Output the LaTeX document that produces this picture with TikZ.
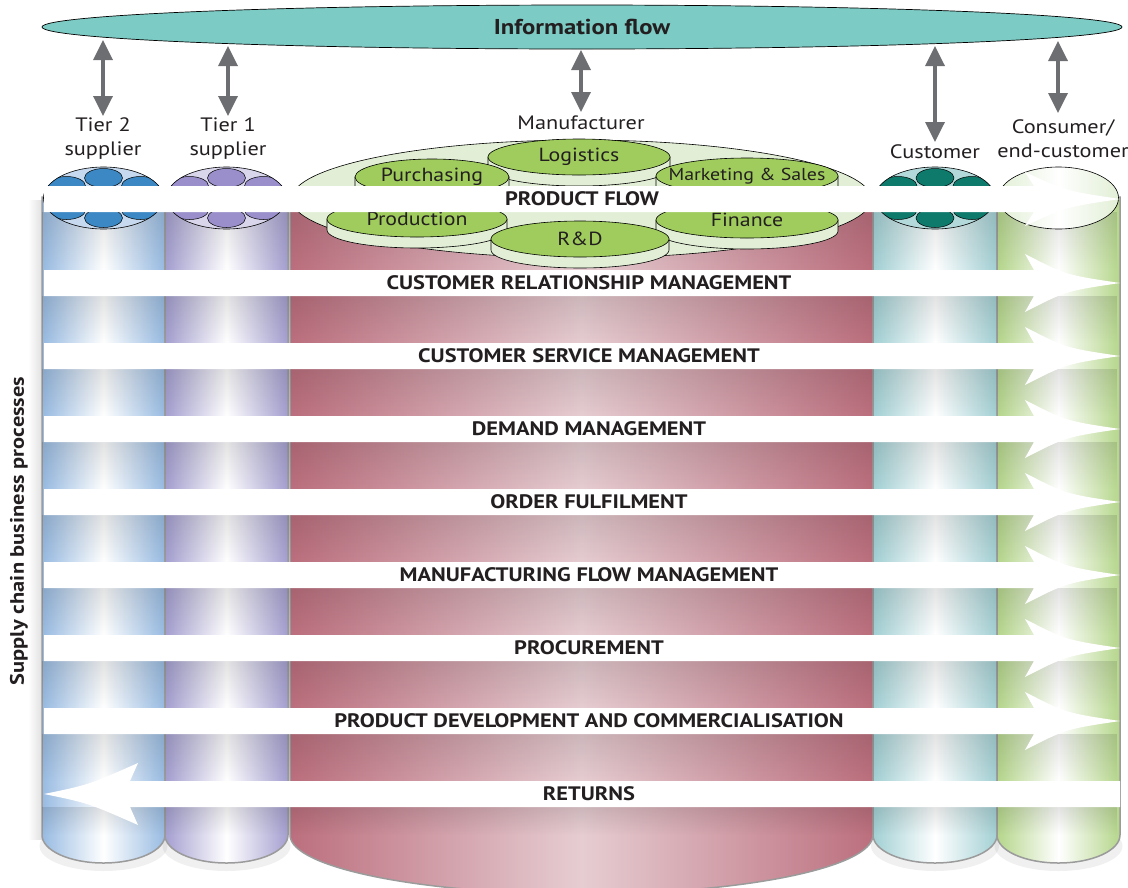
\documentclass[tikz,border=0pt]{standalone}
\usepackage{fontspec}
\setmainfont{PT Sans}[FakeStretch=1.15]
\usetikzlibrary{arrows.meta,fadings}
\tikzfading[name=fadedown, top color=transparent!0, bottom color=transparent!100]
\tikzfading[name=fadeleft, right color=transparent!0, left color=transparent!100]
\definecolor{infofill}{HTML}{7CCBC4}
\definecolor{arrgray}{HTML}{6D6E71}
\definecolor{txt}{HTML}{231F20}
\definecolor{blueC}{HTML}{98BBE2}
\definecolor{blueD}{HTML}{3B88C4}
\definecolor{blueL}{HTML}{C6D9EE}
\definecolor{purC}{HTML}{A49FD0}
\definecolor{purD}{HTML}{9A8FCB}
\definecolor{purL}{HTML}{D9D6EC}
\definecolor{redC}{HTML}{BC6F7E}
\definecolor{redM}{HTML}{E6CDD2}
\definecolor{tealC}{HTML}{A2D0D4}
\definecolor{tealD}{HTML}{0E7A6C}
\definecolor{tealL}{HTML}{B3D9DA}
\definecolor{grnC}{HTML}{B5D68B}
\definecolor{grnD}{HTML}{9FCC5C}
\definecolor{grnL}{HTML}{E2EFD6}
\definecolor{edgeg}{HTML}{9B9B9B}
\tikzset{
  colbody/.style={draw=edgeg, line width=1.5pt},
  topell/.style={draw=black, line width=0.6pt},
  smallell/.style={draw=black, line width=0.5pt},
  dblarrow/.style={draw=arrgray, line width=3.5pt, {Triangle[width=19pt,length=20pt]}-{Triangle[width=19pt,length=20pt]}},
  toplabel/.style={text=txt, font=\fontsize{19.4}{24}\selectfont, align=center},
  proclabel/.style={text=txt, font=\bfseries\fontsize{19.5}{22}\selectfont},
  complabel/.style={text=txt, font=\fontsize{19}{22}\selectfont},
  barfill/.style={fill=white},
  bandshade/.style={fill=black, opacity=0.11, path fading=fadedown}
}
\newcommand{\colbody}[5]{% x1 x2 color midcolor ry
  \shade[colbody, left color=#3, right color=#3, middle color=#4]
    (#1,197) -- (#1,835) arc[start angle=180, end angle=0, x radius={(#2-#1)/2}, y radius=#5] -- (#2,197) -- cycle;
}
\newcommand{\flower}[4]{% cx light dark name
  \begin{scope}
    \path[fill=#2] (#1,198) ellipse[x radius=60, y radius=31];
    \clip (#1,198) ellipse[x radius=60, y radius=31];
    \foreach \dx/\dy in {-37/186, 37/186, -37/210, 37/210, 0/178, 0/218}
      \filldraw[smallell, fill=#3] (#1+\dx,\dy) ellipse[x radius=19, y radius=9.5];
  \end{scope}
  \draw[topell] (#1,198) ellipse[x radius=60, y radius=31];
  \coordinate (#4) at (#1,198);
}
\newcommand{\comp}[6]{% cx cy rx name text fontsize
  \filldraw[draw=black, line width=0.6pt, fill=grnL] (#1-#3,#2) -- (#1-#3,#2+11) arc[start angle=180, end angle=0, x radius=#3, y radius=18] -- (#1+#3,#2) -- cycle;
  \filldraw[draw=black, line width=0.6pt, fill=grnD] (#1,#2) ellipse[x radius=#3, y radius=18];
  \node[complabel, font=\fontsize{#6}{22}\selectfont] (#4) at (#1,#2) {#5};
}
\newcommand{\rarrow}[2]{% center y, half head
  \fill[barfill] (44,#1-13) -- (1034,#1-13) -- (1025,#1-#2) .. controls (1066,#1-8) .. (1120,#1) .. controls (1066,#1+8) .. (1025,#1+#2) -- (1034,#1+13) -- (44,#1+13) -- cycle;
}
\begin{document}
\begin{tikzpicture}[x=1pt,y=-1pt]
\useasboundingbox (0,0) rectangle (1128,887);
% soft shadows
\fill[black, opacity=0.12, path fading=fadeleft] (28,200) rectangle (42,840);
\foreach \cx in {103.5, 226.5, 935, 1058.5}
  \fill[black, opacity=0.06] (\cx,846) ellipse[x radius=64, y radius=25];
% columns
\colbody{42}{165}{blueC}{white}{28}
\colbody{165}{288}{purC}{white}{28}
\colbody{290}{873}{redC}{redM}{59}
\colbody{873}{997}{tealC}{white}{28}
\colbody{997}{1120}{grnC}{white}{28}
% banding between process bars
\foreach \ya/\yb in {212/270, 296/343, 369/416, 442/489, 515/562, 588/635, 661/708, 734/781, 807/835}
  \fill[bandshade] (43,\ya) rectangle (1119,\yb);
% tops
\flower{103.5}{blueL}{blueD}{t2top}
\flower{226.5}{purL}{purD}{t1top}
\flower{935}{tealL}{tealD}{cutop}
\shade[topell, left color=grnL, right color=grnL, middle color=white] (1058.5,198) ellipse[x radius=60, y radius=31];
\coordinate (cotop) at (1058.5,198);
% manufacturer top
\filldraw[topell, fill=grnL] (581.5,199) ellipse[x radius=290, y radius=59];
\comp{579}{157}{91}{logi}{Logistics}{19}
\comp{747}{176}{91}{mark}{Marketing \& Sales}{17.3}
\comp{432}{177}{77}{purch}{Purchasing}{19}
\comp{417}{219}{90}{prod}{Production}{19}
\comp{747}{220}{91}{fin}{Finance}{19}
\comp{580}{239}{89}{rd}{R\&D}{19}
% process arrows
\rarrow{199}{27}
\foreach \c in {283,356,429,502,575,648,721} {\rarrow{\c}{29}}
\fill[barfill] (1120,781) -- (130,781) -- (138,763) .. controls (88,785) .. (44,794) .. controls (88,803) .. (138,825) -- (130,807) -- (1120,807) -- cycle;
% process labels
\node[proclabel] (pf) at (582,199) {PRODUCT FLOW};
\node[proclabel] (crm) at (589,283) {CUSTOMER RELATIONSHIP MANAGEMENT};
\node[proclabel] (csm) at (589,356) {CUSTOMER SERVICE MANAGEMENT};
\node[proclabel] (dm) at (589,429) {DEMAND MANAGEMENT};
\node[proclabel] (of) at (589,502) {ORDER FULFILMENT};
\node[proclabel] (mfm) at (589,575) {MANUFACTURING FLOW MANAGEMENT};
\node[proclabel] (proc) at (589,648) {PROCUREMENT};
\node[proclabel] (pdc) at (589,721) {PRODUCT DEVELOPMENT AND COMMERCIALISATION};
\node[proclabel] (ret) at (589,794) {RETURNS};
% side label
\node[proclabel, rotate=90] (side) at (19,531) {Supply chain business processes};
% information flow
\filldraw[draw=black, line width=0.7pt, fill=infofill] (582,27) ellipse[x radius=540, y radius=22];
\node[text=txt, font=\bfseries\fontsize{21.5}{24}\selectfont] (info) at (582,27) {Information flow};
% labels
\node[toplabel] (t2) at (103,139) {Tier 2\\supplier};
\node[toplabel] (t1) at (228,139) {Tier 1\\supplier};
\node[toplabel] (man) at (581,123) {Manufacturer};
\node[toplabel] (cu) at (935,152) {Customer};
\node[toplabel] (co) at (1063,139) {Consumer/\\end-customer};
% double arrows
\coordinate (a1) at (103,40); \coordinate (b1) at (103,116);
\coordinate (a2) at (228,46); \coordinate (b2) at (228,116);
\coordinate (a3) at (581,50); \coordinate (b3) at (581,112);
\coordinate (a4) at (935,46); \coordinate (b4) at (935,142);
\coordinate (a5) at (1058,41); \coordinate (b5) at (1058,113);
\foreach \i in {1,...,5} {\draw[dblarrow] (a\i) -- (b\i);}
\end{tikzpicture}
\end{document}
